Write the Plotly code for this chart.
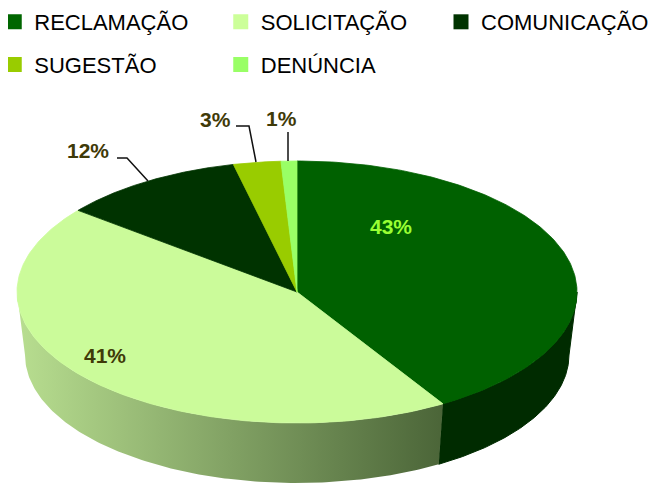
import numpy as np
import plotly.graph_objects as go

# ---- data ----
categories = ["RECLAMAÇÃO", "SOLICITAÇÃO", "COMUNICAÇÃO", "SUGESTÃO", "DENÚNCIA"]
values = [43, 41, 12, 3, 1]
pct_labels = ["43%", "41%", "12%", "3%", "1%"]

# ---- styles ----
top_colors = ["#006100", "#CBFB9A", "#003300", "#99CC00", "#99FF66"]
side_colors = ["#002B00", None, "#001F00", "#6F9400", "#70C040"]
side_gradient = [[0, "#B8DE90"], [1, "#4B6538"]]
legend_colors = ["#006600", "#CCFF99", "#003300", "#99CC00", "#99FF66"]
legend_ids = ["legend", "legend2", "legend3", "legend", "legend2"]
label_colors = ["#99FF33", "#3F3A08", "#3F3A08", "#3F3A08", "#3F3A08"]
label_pos = [(391, 226), (105, 355), (88, 150), (215, 119), (281, 118)]
leaders = [None, None,
           [(117, 158), (127, 158), (148, 181)],
           [(236, 126), (249, 126), (256, 162)],
           [(288, 132), (288, 161)]]

W, H = 658, 485
OFF = 8                                  # page body margin in the browser
CX, CY, A, B = 297, 292, 280, 131        # top face ellipse (pixels)
CY2, A2, B2 = 355, 272, 128               # bottom rim ellipse


def persp(t):
    """Perspective-like warp of a pie angle (deg): the near side looks larger."""
    r = np.radians(t)
    return t - np.sin(r) * (10.0 - 5.07 * np.cos(r))


def arc(t1, t2, cy, a, b, n=160):
    t = np.radians(persp(np.linspace(t1, t2, n)))
    return CX + a * np.sin(t), cy - b * np.cos(t)


fig = go.Figure()

total = float(sum(values))
bounds = np.concatenate([[0], np.cumsum(values) / total * 360.0])

# visible front range of the side wall, in data angles
FRONT_L, FRONT_R = 90.0, 270.0
# find data angles that map to the left/right extremes (drawn 90 / 270)
_grid = np.linspace(0, 360, 36001)
_d = persp(_grid)
FRONT_L = float(_grid[np.argmin(np.abs(_d - 90))])
FRONT_R = float(_grid[np.argmin(np.abs(_d - 270))])

# side walls (front half only)
for i, cat in enumerate(categories):
    t1, t2 = bounds[i], bounds[i + 1]
    s1, s2 = max(t1, FRONT_L), min(t2, FRONT_R)
    if s1 >= s2:
        continue
    xt, yt = arc(s1, s2, CY, A, B)
    xb, yb = arc(s2, s1, CY2, A2, B2)
    xs = np.concatenate([xt, xb, xt[:1]])
    ys = np.concatenate([yt, yb, yt[:1]])
    kw = dict(x=xs, y=ys, mode="lines", fill="toself", showlegend=False,
              hoverinfo="skip")
    if side_colors[i] is None:
        kw["fillgradient"] = dict(type="horizontal", colorscale=side_gradient)
        kw["line"] = dict(width=0)
    else:
        kw["fillcolor"] = side_colors[i]
        kw["line"] = dict(width=1, color=side_colors[i])
    fig.add_trace(go.Scatter(**kw))

# top faces
for i, cat in enumerate(categories):
    t1, t2 = bounds[i], bounds[i + 1]
    xa, ya = arc(t1, t2, CY, A, B)
    xs = np.concatenate([[CX], xa, [CX]])
    ys = np.concatenate([[CY], ya, [CY]])
    fig.add_trace(go.Scatter(
        x=xs, y=ys, mode="lines", fill="toself", fillcolor=top_colors[i],
        line=dict(width=0.8, color=top_colors[i]), showlegend=False,
        name=cat, text=f"{cat}: {pct_labels[i]}", hoverinfo="text"))

# legend entries
for i, cat in enumerate(categories):
    fig.add_trace(go.Scatter(
        x=[None], y=[None], mode="markers", name=cat, legendgroup=cat,
        marker=dict(symbol="square", size=15, color=legend_colors[i]),
        legend=legend_ids[i]))

# data labels
for i, lab in enumerate(pct_labels):
    x, y = label_pos[i]
    fig.add_annotation(x=x, y=y, xref="x", yref="y", text=f"<b>{lab}</b>",
                       showarrow=False,
                       font=dict(family="Liberation Sans", size=21, color=label_colors[i]))
    if leaders[i]:
        pts = leaders[i]
        path = "M " + " L ".join(f"{px},{py}" for px, py in pts)
        fig.add_shape(type="path", path=path, xref="x", yref="y",
                      line=dict(color="#111111", width=1.5))

legend_common = dict(orientation="v", xanchor="left", yanchor="top",
                     y=1 + 7 / H, tracegroupgap=11,
                     font=dict(family="Liberation Sans", size=22, color="#000000"),
                     bgcolor="rgba(0,0,0,0)", borderwidth=0, itemclick=False)

fig.update_layout(
    width=W, height=H,
    margin=dict(l=0, r=0, t=0, b=0, autoexpand=False),
    paper_bgcolor="white", plot_bgcolor="white",
    xaxis=dict(range=[OFF, W + OFF], visible=False, fixedrange=True),
    yaxis=dict(range=[H + OFF, OFF], visible=False, fixedrange=True),
    legend=dict(x=-13.75 / W, **legend_common),
    legend2=dict(x=212.75 / W, **legend_common),
    legend3=dict(x=433.0 / W, **legend_common),
    showlegend=True,
)

fig.write_html("out.html")
